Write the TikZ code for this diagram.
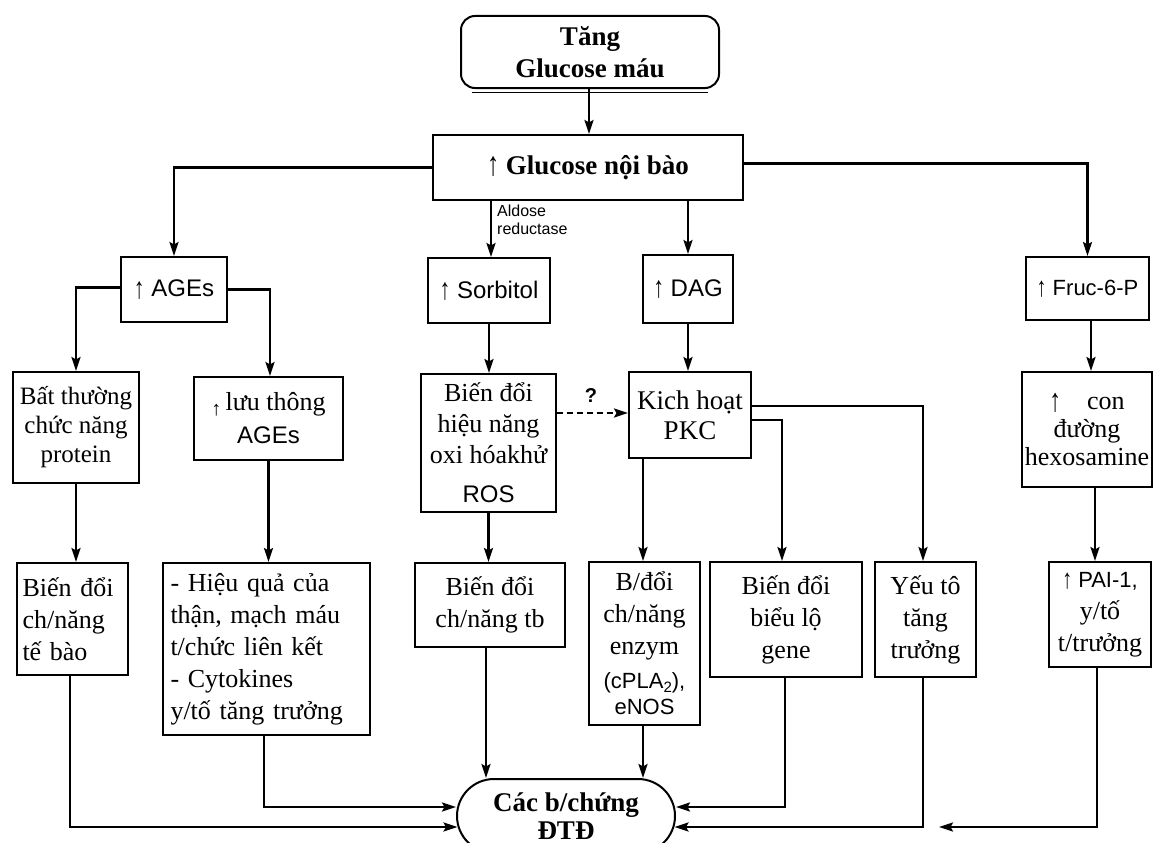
\documentclass[tikz,border=0pt]{standalone}
\usepackage{fontspec}
\setmainfont{Liberation Serif}
\newfontfamily\sansf{Liberation Sans}
\usetikzlibrary{arrows.meta,calc}
\tikzset{
  bx/.style={draw, line width=2pt, inner sep=0pt, align=center, font=\fontsize{26}{31}\selectfont},
  sbx/.style={bx, font=\sansf\fontsize{24}{28}\selectfont},
  arr/.style={line width=2.3pt, -{Stealth[length=14pt,width=9pt,inset=2.5pt]}},
  dsh/.style={line width=2.3pt, dash pattern=on 6pt off 4pt, -{Stealth[length=14pt,width=9pt,inset=2.5pt]}},
}
\newcommand{\sml}{\sansf\fontsize{22}{25}\selectfont}
\newcommand{\upar}{{\mdseries\raisebox{-0.06em}{\scalebox{0.9}[1.25]{↑}}}}
\begin{document}
\begin{tikzpicture}[x=1pt,y=-1pt]
\clip (0,0) rectangle (1154,843);
\useasboundingbox (0,0) rectangle (1154,843);

% nodes
\node[bx, minimum width=258pt, minimum height=72pt, rounded corners=14pt, font=\fontsize{27}{32}\selectfont\bfseries] (top) at (590,52) {Tăng\\Glucose máu};
\node[bx, minimum width=310pt, minimum height=65pt, font=\fontsize{27}{32}\selectfont\bfseries] (gluc) at (588,167.5) {\upar\ Glucose nội bào};

\node[sbx, minimum width=106pt, minimum height=65pt] (ages) at (174,289.5) {\upar\ AGEs};
\node[sbx, minimum width=122pt, minimum height=65pt] (sorb) at (489,290.5) {\upar\ Sorbitol};
\node[sbx, minimum width=90pt, minimum height=68pt] (dag) at (688,289) {\upar\ DAG};
\node[sbx, minimum width=123pt, minimum height=63pt, font=\sansf\fontsize{22}{26}\selectfont] (fruc) at (1087.5,288.5) {\upar\ Fruc-6-P};

\node[anchor=north west, align=left, inner sep=0pt, font=\sansf\fontsize{16}{18}\selectfont] (ald) at (497,205) {Aldose\\reductase};

\node[bx, minimum width=126pt, minimum height=111pt, font=\fontsize{25}{29}\selectfont] (bat) at (76,427.5) {Bất thường\\chức năng\\protein};
\node[bx, minimum width=149pt, minimum height=83pt] (luu) at (268.5,418.5) {\raisebox{-5pt}{\fontsize{20}{20}\selectfont ↑}\,lưu thông\\[2pt]{\sansf\fontsize{24}{28}\selectfont AGEs}};
\node[bx, minimum width=135pt, minimum height=138pt] (ros) at (488.5,443) {Biến đổi\\hiệu năng\\oxi hóakhử\\[8pt]{\sansf\fontsize{24}{28}\selectfont ROS}};
\node[bx, minimum width=122pt, minimum height=86pt, font=\fontsize{27}{30}\selectfont] (pkc) at (690,415) {Kich hoạt\\PKC};
\node[bx, minimum width=130pt, minimum height=115pt, font=\fontsize{26}{28}\selectfont] (hexo) at (1087,429.5) {\upar\quad con\\đường\\hexosamine};

\node[bx, minimum width=111pt, minimum height=112pt, text width=100pt, align=left, font=\fontsize{26}{32}\selectfont] (bd1) at (72.5,619) {Biến đổi\\ch/năng\\tế bào};
\node[bx, minimum width=207pt, minimum height=172pt, text width=192pt, align=left, font=\fontsize{26}{32}\selectfont] (hq) at (266.5,649) {- Hiệu quả của\\thận, mạch máu\\t/chức liên kết\\- Cytokines\\y/tố tăng trưởng};
\node[bx, minimum width=150pt, minimum height=84pt, font=\fontsize{26}{32}\selectfont] (bd2) at (490,605) {Biến đổi\\ch/năng tb};
\node[bx, minimum width=111pt, minimum height=163pt, font=\fontsize{26}{32}\selectfont] (benz) at (644.5,643.5) {B/đổi\\ch/năng\\enzym\\[2pt]{\sml (cPLA\raisebox{-4pt}{\fontsize{15}{15}\selectfont 2}),}\\[-6pt]{\sml eNOS}};
\node[bx, minimum width=152pt, minimum height=115pt, font=\fontsize{26}{32}\selectfont] (gene) at (786,619.5) {Biến đổi\\biểu lộ\\gene};
\node[bx, minimum width=101pt, minimum height=115pt, font=\fontsize{26}{32}\selectfont] (yeu) at (925.5,619.5) {Yếu tô\\tăng\\trưởng};
\node[bx, minimum width=102pt, minimum height=105pt, font=\fontsize{26}{32}\selectfont] (pai) at (1100,614.5) {{\sml \upar\ PAI-1,}\\y/tố\\t/trưởng};

\node[bx, minimum width=218pt, minimum height=74pt, rounded corners=37pt, font=\fontsize{27}{28}\selectfont\bfseries] (ell) at (566,816) {Các b/chứng\\ĐTĐ};

\node[inner sep=0pt, font=\sansf\bfseries\fontsize{20}{20}\selectfont] (q) at (591,396) {?};

% shadow line of the top box
\draw[line width=1.2pt] ([xshift=12pt,yshift=-3.5pt]top.south west) -- ([xshift=-12pt,yshift=-3.5pt]top.south east);

% connectors
\draw[arr] ([xshift=-1pt]top.south) -- ([xshift=-1pt]top.south |- gluc.north);
\draw[arr] (gluc.west) -| (ages.north);
\draw[arr] ([yshift=4pt]gluc.east) -| (fruc.north);
\draw[arr] ([xshift=2pt]sorb.north |- gluc.south) -- ([xshift=2pt]sorb.north);
\draw[arr] (dag.north |- gluc.south) -- (dag.north);

\draw[arr] ([yshift=2pt]ages.west) -| (bat.north);
\draw[arr] (ages.east) -| ([xshift=1.5pt]luu.north);
\draw[arr] (sorb.south) -- (sorb.south |- ros.north);
\draw[arr] (dag.south) -- (dag.south |- pkc.north);
\draw[arr] ([xshift=3.5pt]fruc.south) -- ([xshift=3.5pt]fruc.south |- hexo.north);

\draw[dsh] ([yshift=2pt]pkc.west -| ros.east) -- ([yshift=2pt]pkc.west);

\draw[arr] ([yshift=9pt]pkc.east) -| ([xshift=-2.5pt]yeu.north);
\draw[arr] ([yshift=-5pt]pkc.east) -| ([xshift=-4pt]gene.north);
\draw[arr] ([xshift=-1.5pt]benz.north |- pkc.south) -- ([xshift=-1.5pt]benz.north);

\draw[arr] (bat.south) -- (bat.south |- bd1.north);
\draw[arr] (luu.south) -- (luu.south |- hq.north);
\draw[arr] (ros.south) -- (ros.south |- bd2.north);
\draw[arr] ([xshift=8pt]hexo.south) -- ([xshift=8pt]hexo.south |- pai.north);

\draw[arr] ([xshift=-2.5pt]bd1.south) |- ([yshift=-11pt,xshift=1.5pt]ell.west);
\draw[arr] ([xshift=-2.5pt]hq.south) |- ([yshift=9pt]ell.west);
\draw[arr] ([xshift=-4pt]bd2.south) -- ([xshift=-4pt]bd2.south |- ell.north);
\draw[arr] ([xshift=-1.5pt]benz.south) -- ([xshift=-1.5pt]benz.south |- ell.north);
\draw[arr] ([xshift=-1pt]gene.south) |- ([yshift=9pt]ell.east);
\draw[arr] ([xshift=-2.5pt]yeu.south) |- ([yshift=-11pt,xshift=-1.5pt]ell.east);
\coordinate (paiend) at (939,827);
\draw[arr] ([xshift=-3pt]pai.south) |- (paiend);
\end{tikzpicture}
\end{document}
